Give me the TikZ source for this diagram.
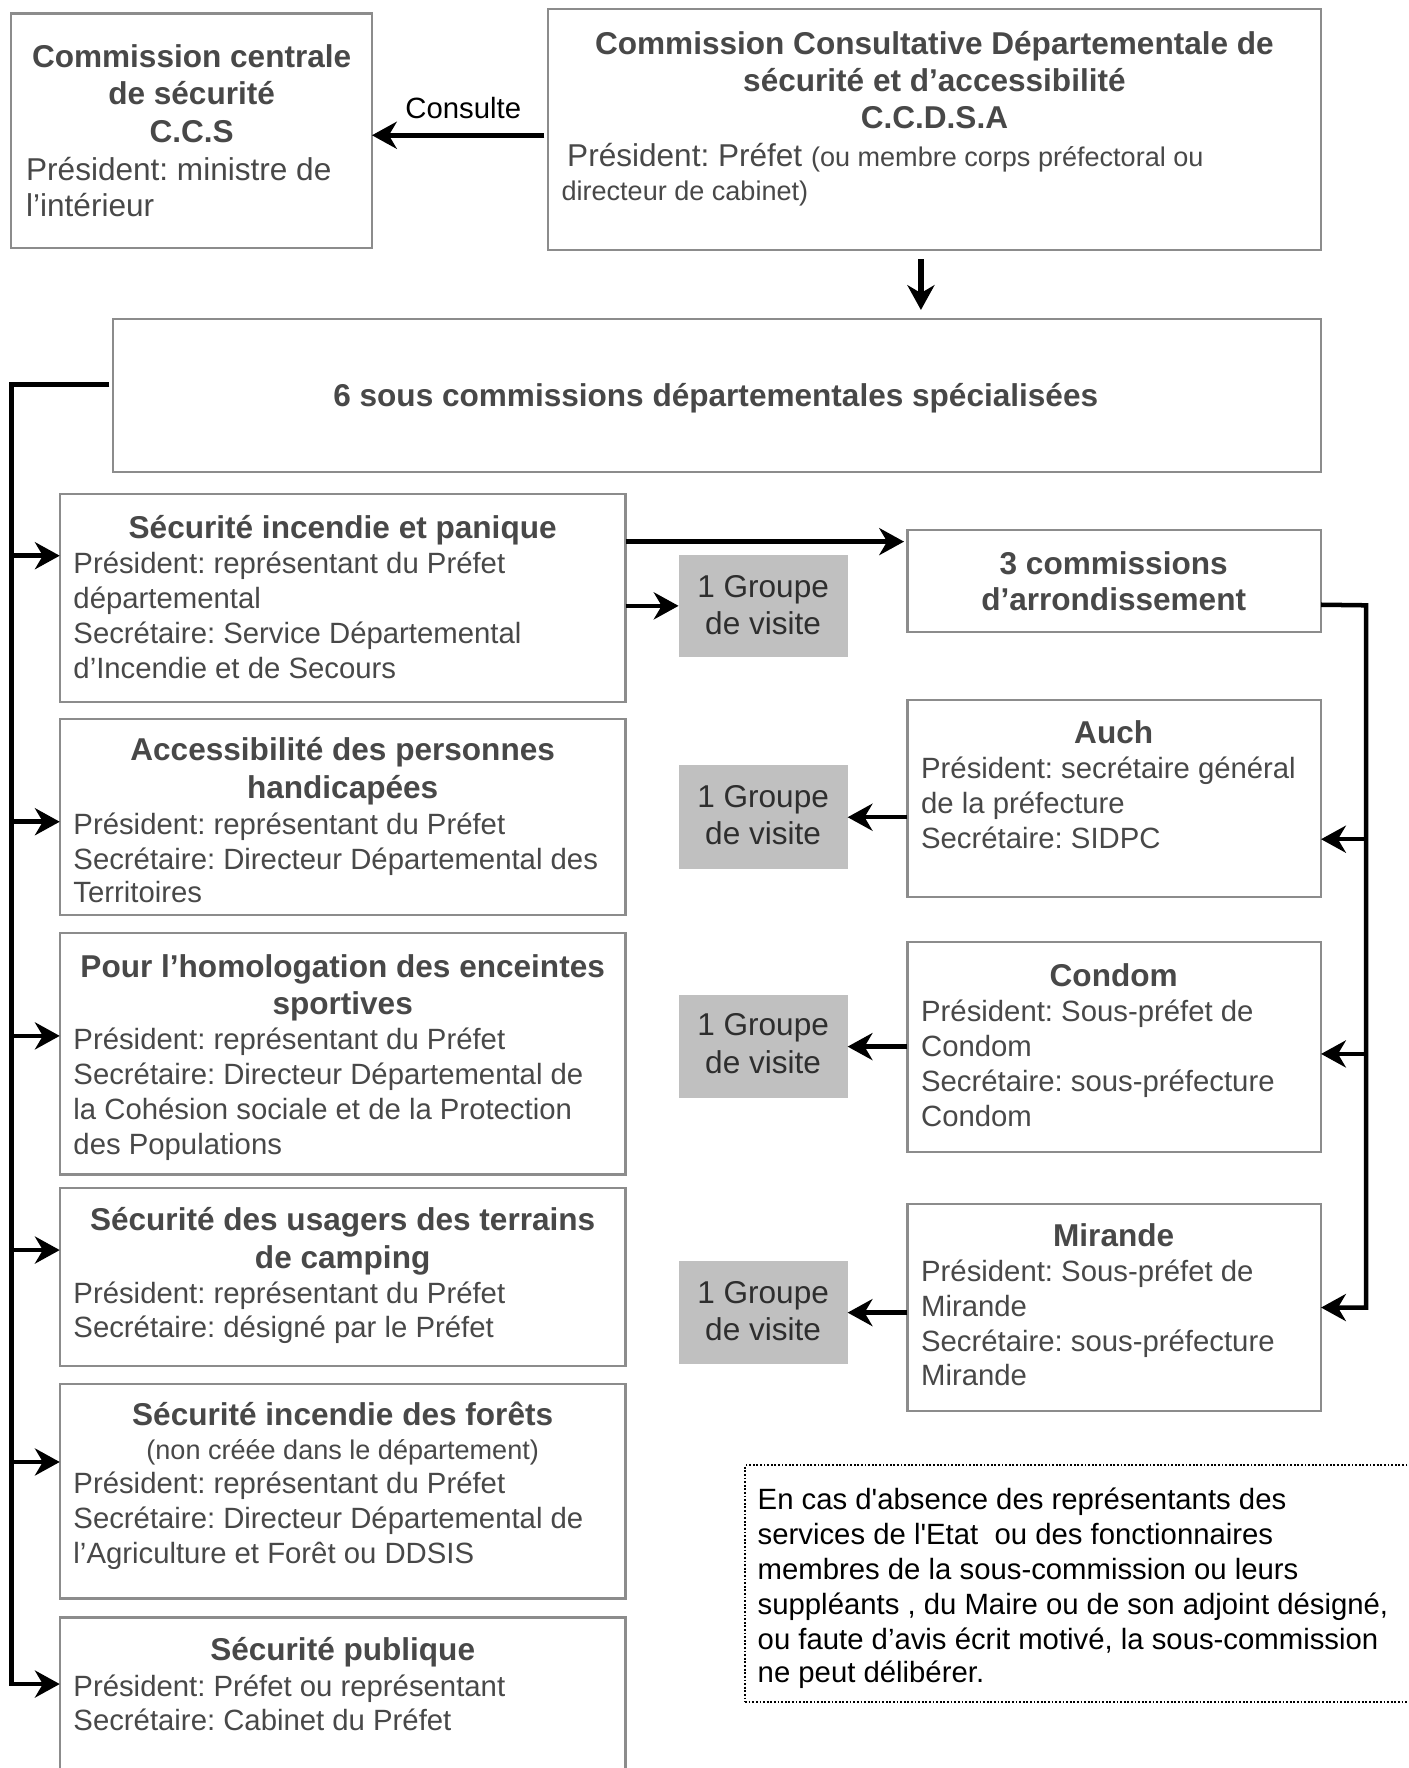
\documentclass[tikz,border=0pt]{standalone}
\usepackage{fontspec}
\setmainfont{Liberation Sans}[Ligatures=TeXOff]
\usetikzlibrary{arrows.meta}
\definecolor{txt}{HTML}{484848}
\definecolor{bord}{HTML}{8C8C8C}
\definecolor{grp}{HTML}{C0C0C0}
\definecolor{grptxt}{HTML}{2E2E2E}
\frenchspacing
\begin{document}
\frenchspacing
\begin{tikzpicture}[x=1pt,y=-1pt,
  box/.style={draw=bord, line width=2pt, fill=white, inner sep=0pt, outer sep=0pt, anchor=north west},
  grpbox/.style={fill=grp, inner sep=0pt, outer sep=0pt, anchor=north west},
  notebox/.style={draw=black, line width=1.6pt, dash pattern=on 1.6pt off 1.6pt, inner sep=0pt, outer sep=0pt, anchor=north west},
  hd/.style={font=\fontsize{28}{33}\selectfont\bfseries, text=txt, inner sep=0pt, anchor=base},
  bd/.style={font=\fontsize{26}{31}\selectfont, text=txt, inner sep=0pt, anchor=base west},
  bdl/.style={font=\fontsize{28}{32}\selectfont, text=txt, inner sep=0pt, anchor=base west},
  sm/.style={font=\fontsize{24}{29}\selectfont, text=txt, inner sep=0pt},
  gt/.style={font=\fontsize{28}{33}\selectfont, text=grptxt, inner sep=0pt, anchor=base},
  nt/.style={font=\fontsize{26}{31}\selectfont, text=black, inner sep=0pt, anchor=base west},
  arr/.style={line width=4pt, draw=black, line join=miter, -{Stealth[length=22pt,width=24pt,inset=7pt]}},
]
\fill[white] (0,0) rectangle (1250,1568.5);
\useasboundingbox (0,0) rectangle (1250,1568.5);

% ---------- boxes ----------
\node[box, minimum width=320pt, minimum height=208pt] (ccs) at (10,12) {};
\node[box, minimum width=686pt, minimum height=214pt] (ccdsa) at (486,8) {};
\node[box, minimum width=1072pt, minimum height=136pt] (sous) at (100,283) {};
\node[box, minimum width=502pt, minimum height=185pt] (b1) at (53,438) {};
\node[box, minimum width=502pt, minimum height=174pt] (b2) at (53,638) {};
\node[box, minimum width=502pt, minimum height=214pt] (b3) at (53,828) {};
\node[box, minimum width=502pt, minimum height=158pt] (b4) at (53,1054) {};
\node[box, minimum width=502pt, minimum height=190pt] (b5) at (53,1228) {};
\node[box, minimum width=502pt, minimum height=150pt] (b6) at (53,1435) {};
\node[box, minimum width=367pt, minimum height=91pt] (arrd) at (805,470) {};
\node[box, minimum width=367pt, minimum height=175pt] (auch) at (805,621) {};
\node[box, minimum width=367pt, minimum height=186pt] (condom) at (805,836) {};
\node[box, minimum width=367pt, minimum height=184pt] (mirande) at (805,1068) {};
\node[grpbox, minimum width=150pt, minimum height=91pt] (g1) at (602,492) {};
\node[grpbox, minimum width=150pt, minimum height=92pt] (g2) at (602,679) {};
\node[grpbox, minimum width=150pt, minimum height=91pt] (g3) at (602,883) {};
\node[grpbox, minimum width=150pt, minimum height=91pt] (g4) at (602,1119) {};
\node[notebox, minimum width=600pt, minimum height=210pt] (note) at (661,1300) {};

% ---------- texts ----------
\node[hd] (ccs1) at (170,60) {Commission centrale};
\node[hd] (ccs2) at (170,93) {de sécurité};
\node[hd] (ccs3) at (170,126) {C.C.S};
\node[bdl] (ccs4) at (23,160) {Président: ministre de};
\node[bdl] (ccs5) at (23,192) {l’intérieur};

\node[hd] (cd1) at (829,48) {Commission Consultative Départementale de};
\node[hd] (cd2) at (829,81) {sécurité et d’accessibilité};
\node[hd] (cd3) at (829,114) {C.C.D.S.A};
\node[bdl] (cd4) at (503,148) {Président: Préfet {\fontsize{24}{29}\selectfont (ou membre corps préfectoral ou}};
\node[sm, anchor=base west] (cd5) at (498,178) {directeur de cabinet)};

\node[font=\fontsize{26}{31}\selectfont, text=black, inner sep=0pt, anchor=base] (cons) at (411,105) {Consulte};

\node[hd] (sous1) at (635,361) {6 sous commissions départementales spécialisées};

\node[hd] (b1h) at (304,478) {Sécurité incendie et panique};
\node[bd] (b1a) at (65,509) {Président: représentant du Préfet};
\node[bd] (b1b) at (65,540) {départemental};
\node[bd] (b1c) at (65,571) {Secrétaire: Service Départemental};
\node[bd] (b1d) at (65,602) {d’Incendie et de Secours};

\node[hd] (b2h) at (304,675) {Accessibilité des personnes};
\node[hd] (b2i) at (304,708) {handicapées};
\node[bd] (b2a) at (65,740) {Président: représentant du Préfet};
\node[bd] (b2b) at (65,771) {Secrétaire: Directeur Départemental des};
\node[bd] (b2c) at (65,801) {Territoires};

\node[hd] (b3h) at (304,867) {Pour l’homologation des enceintes};
\node[hd] (b3i) at (304,900) {sportives};
\node[bd] (b3a) at (65,931) {Président: représentant du Préfet};
\node[bd] (b3b) at (65,962) {Secrétaire: Directeur Départemental de};
\node[bd] (b3c) at (65,993) {la Cohésion sociale et de la Protection};
\node[bd] (b3d) at (65,1024) {des Populations};

\node[hd] (b4h) at (304,1092) {Sécurité des usagers des terrains};
\node[hd] (b4i) at (304,1125) {de camping};
\node[bd] (b4a) at (65,1156) {Président: représentant du Préfet};
\node[bd] (b4b) at (65,1187) {Secrétaire: désigné par le Préfet};

\node[hd] (b5h) at (304,1265) {Sécurité incendie des forêts};
\node[sm, anchor=base] (b5i) at (304,1295) {(non créée dans le département)};
\node[bd] (b5a) at (65,1325) {Président: représentant du Préfet};
\node[bd] (b5b) at (65,1356) {Secrétaire: Directeur Départemental de};
\node[bd] (b5c) at (65,1387) {l’Agriculture et Forêt ou DDSIS};

\node[hd] (b6h) at (304,1473) {Sécurité publique};
\node[bd] (b6a) at (65,1505) {Président: Préfet ou représentant};
\node[bd] (b6b) at (65,1535) {Secrétaire: Cabinet du Préfet};

\node[hd] (ar1) at (988,510) {3 commissions};
\node[hd] (ar2) at (988,542) {d’arrondissement};

\node[hd] (au1) at (988,660) {Auch};
\node[bd] (au2) at (817,691) {Président: secrétaire général};
\node[bd] (au3) at (817,722) {de la préfecture};
\node[bd] (au4) at (817,753) {Secrétaire: SIDPC};

\node[hd] (co1) at (988,875) {Condom};
\node[bd] (co2) at (817,906) {Président: Sous-préfet de};
\node[bd] (co3) at (817,937) {Condom};
\node[bd] (co4) at (817,968) {Secrétaire: sous-préfecture};
\node[bd] (co5) at (817,999) {Condom};

\node[hd] (mi1) at (988,1106) {Mirande};
\node[bd] (mi2) at (817,1137) {Président: Sous-préfet de};
\node[bd] (mi3) at (817,1168) {Mirande};
\node[bd] (mi4) at (817,1199) {Secrétaire: sous-préfecture};
\node[bd] (mi5) at (817,1229) {Mirande};

\node[gt] (g1a) at (677,530) {1 Groupe};
\node[gt] (g1b) at (677,563) {de visite};
\node[gt] (g2a) at (677,716) {1 Groupe};
\node[gt] (g2b) at (677,749) {de visite};
\node[gt] (g3a) at (677,919) {1 Groupe};
\node[gt] (g3b) at (677,952) {de visite};
\node[gt] (g4a) at (677,1156) {1 Groupe};
\node[gt] (g4b) at (677,1189) {de visite};

\node[nt] (n1) at (672,1339) {En cas d'absence des représentants des};
\node[nt] (n2) at (672,1370) {services de l'Etat\ \ ou des fonctionnaires};
\node[nt] (n3) at (672,1401) {membres de la sous-commission ou leurs};
\node[nt] (n4) at (672,1432) {suppléants , du Maire ou de son adjoint désigné,};
\node[nt] (n5) at (672,1463) {ou faute d’avis écrit motivé, la sous-commission};
\node[nt] (n6) at (672,1493) {ne peut délibérer.};

% ---------- connectors ----------
\draw[arr] ([xshift=-3pt,yshift=-5pt]ccdsa.west) -- ([yshift=-5pt]ccdsa.west -| ccs.east);
\draw[arr, line width=5pt] ([xshift=-12pt,yshift=-8pt]ccdsa.south) -- ([xshift=-12pt,yshift=8pt]ccdsa.south |- sous.north);

\coordinate (bustop) at (10,341);
\coordinate (busbot) at (10,1494);
\coordinate (j1) at (10,493);
\coordinate (j2) at (10,729);
\coordinate (j3) at (10,919);
\coordinate (j4) at (10,1109);
\coordinate (j5) at (10,1297);
\draw[arr] ([xshift=-3pt,yshift=10pt]sous.west) -- (bustop) -- (busbot) -- (busbot -| b6.west);
\draw[arr] (j1) -- (j1 -| b1.west);
\draw[arr] (j2) -- (j2 -| b2.west);
\draw[arr] (j3) -- (j3 -| b3.west);
\draw[arr] (j4) -- (j4 -| b4.west);
\draw[arr] (j5) -- (j5 -| b5.west);

\draw[arr, shorten >=3pt] ([yshift=50pt]b1.east) -- ([yshift=50pt]b1.east -| arrd.west);
\draw[arr] (b1.east |- g1.west) -- (g1.west);

\coordinate (rb1) at (1212,537);
\draw[arr] ([yshift=-21pt]arrd.east) -- (rb1) -- (rb1 |- mirande.east) -- (mirande.east);
\draw[arr] ([yshift=-36pt]auch.east -| rb1) -- ([yshift=-36pt]auch.east);
\draw[arr] ([yshift=-6pt]condom.east -| rb1) -- ([yshift=-6pt]condom.east);

\draw[arr] (auch.west |- g2.east) -- (g2.east);
\draw[arr] (condom.west |- g3.east) -- (g3.east);
\draw[arr] (mirande.west |- g4.east) -- (g4.east);
\end{tikzpicture}
\end{document}
